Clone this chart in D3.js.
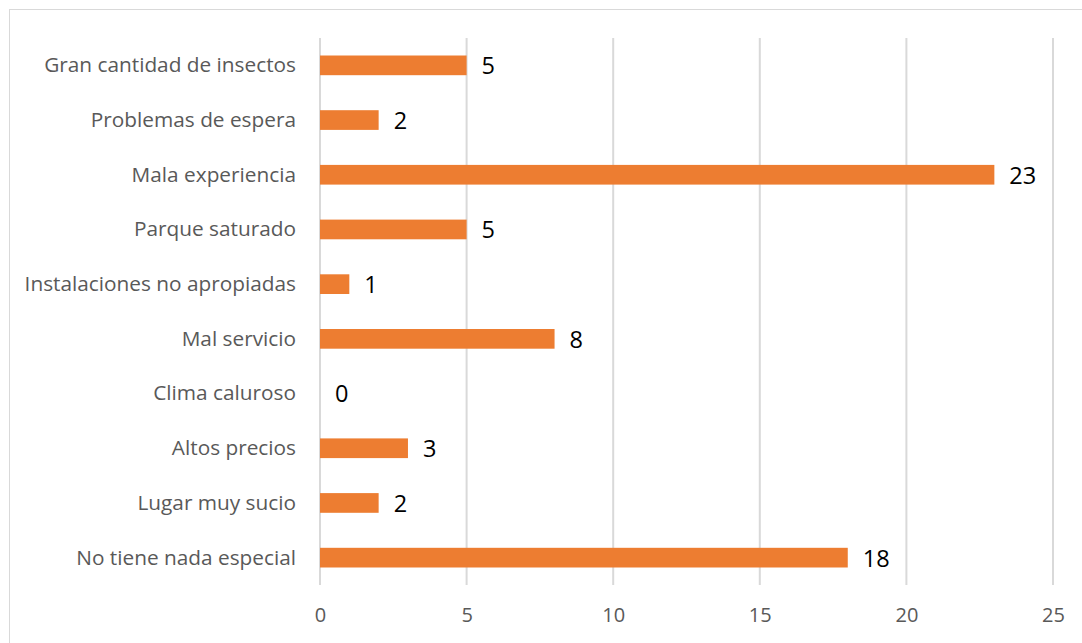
<!DOCTYPE html>
<html>
<head>
<meta charset="utf-8">
<script src="https://cdn.jsdelivr.net/npm/d3@7"></script>
<style>
  body { margin: 0; background: #fff; }
  svg { display: block; }
</style>
</head>
<body>
<svg id="chart" width="1082" height="643"></svg>
<script>
const categories = [
    "Gran cantidad de insectos",
    "Problemas de espera",
    "Mala experiencia ",
    "Parque saturado",
    "Instalaciones no apropiadas",
    "Mal servicio",
    "Clima caluroso",
    "Altos precios",
    "Lugar muy sucio",
    "No tiene nada especial"
];
const values = [5, 2, 23, 5, 1, 8, 0, 3, 2, 18];
const xTicks = [0, 5, 10, 15, 20, 25];

const svg = d3.select("#chart");
const fontFamily = "'Open Sans', 'Noto Sans', sans-serif";

// chart border
svg.append("rect")
    .attr("x", 9.5).attr("y", 9.5)
    .attr("width", 1100).attr("height", 660)
    .attr("fill", "none")
    .attr("stroke", "#d9d9d9")
    .attr("stroke-width", 1);

const x = d3.scaleLinear().domain([0, 25]).range([320, 1053]);
const y = d3.scaleBand().domain(categories).range([38, 585]).paddingInner(0.64).paddingOuter(0.32);

// gridlines
svg.append("g")
    .selectAll("line")
    .data(xTicks)
    .enter().append("line")
    .attr("x1", d => x(d)).attr("x2", d => x(d))
    .attr("y1", 38).attr("y2", 585)
    .attr("stroke", "#d9d9d9")
    .attr("stroke-width", 2);

// x axis labels
const xAxis = d3.axisBottom(x).tickValues(xTicks).tickSize(0).tickPadding(0);
const gx = svg.append("g").attr("transform", "translate(0,608)").call(xAxis);
gx.select(".domain").remove();
gx.selectAll("text")
    .attr("fill", "#595959")
    .attr("font-family", fontFamily)
    .attr("font-size", 20);

// y axis labels
const yAxis = d3.axisLeft(y).tickSize(0).tickPadding(24);
const gy = svg.append("g").attr("transform", "translate(320,0)").call(yAxis);
gy.select(".domain").remove();
gy.selectAll("text")
    .attr("fill", "#595959")
    .attr("font-family", fontFamily)
    .attr("font-size", 20.8)
    .attr("dy", "0.33em");

// bars
svg.append("g")
    .selectAll("rect")
    .data(values)
    .enter().append("rect")
    .attr("x", x(0))
    .attr("y", (d, i) => y(categories[i]))
    .attr("width", d => x(d) - x(0))
    .attr("height", y.bandwidth())
    .attr("fill", "#ED7D31");

// value labels
svg.append("g")
    .selectAll("text")
    .data(values)
    .enter().append("text")
    .attr("x", d => x(d) + 15)
    .attr("y", (d, i) => y(categories[i]) + y.bandwidth() / 2)
    .attr("dy", "0.38em")
    .attr("font-family", fontFamily)
    .attr("font-size", 23.5)
    .attr("fill", "#000")
    .text(d => d);
</script>
</body>
</html>
